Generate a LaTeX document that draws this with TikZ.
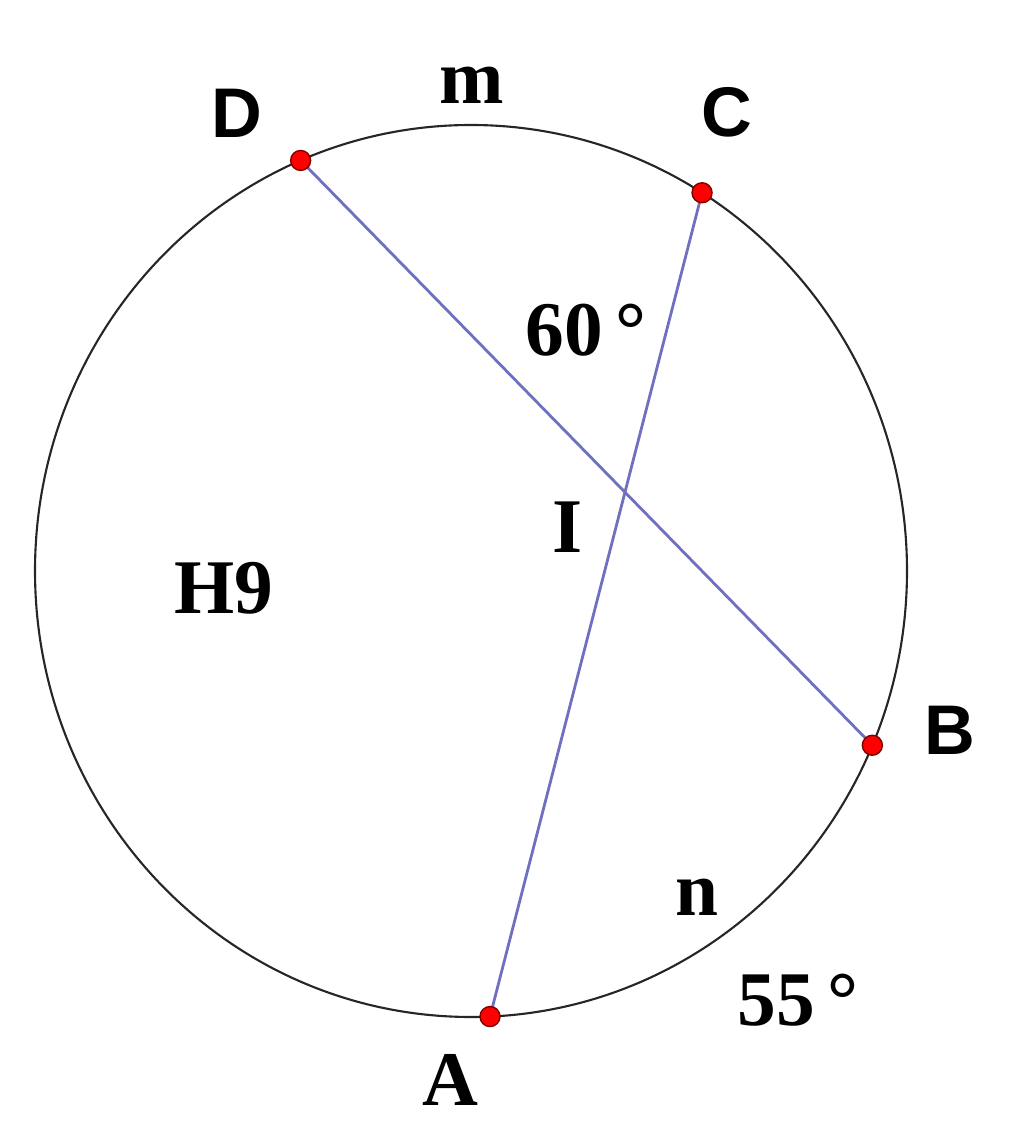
\documentclass[tikz,border=0pt]{standalone}
\usepackage{fontspec}
\setmainfont{Liberation Serif}
\setsansfont{Liberation Sans}
\usetikzlibrary{calc}
\definecolor{chordblue}{RGB}{112,112,192}

\begin{document}
\begin{tikzpicture}[dot/.style={circle,fill=red,draw=red!50!black,inner sep=0pt,minimum size=2mm},
  chord/.style={line width=0.8pt,chordblue},
  seriflbl/.style={font=\fontsize{22}{26}\selectfont\bfseries},
  sanslbl/.style={font=\sffamily\fontsize{20}{24}\selectfont\bfseries}]
\useasboundingbox (0,0) rectangle (10.24,11.43);
% circle
\coordinate (O) at (4.71,5.72);
\draw[black!85,line width=0.6pt] (O) ellipse [x radius=4.36, y radius=4.46];

% points on the circle
\coordinate (D) at ($(O)+(113:4.36 and 4.46)$);
\coordinate (C) at ($(O)+(58:4.36 and 4.46)$);
\coordinate (B) at ($(O)+(-23:4.36 and 4.46)$);
\coordinate (A) at ($(O)+(-87.5:4.36 and 4.46)$);

% chords
\draw[chord] (D)--(B);
\draw[chord] (A)--(C);
\coordinate (I) at (intersection of D--B and A--C);

% points
\foreach \p in {A,B,C,D}{\node[dot] (dot\p) at (\p) {};}

% labels
\node[sanslbl] (lD) at (2.37,10.30) {D};
\node[sanslbl] (lC) at (7.27,10.31) {C};
\node[sanslbl] (lB) at (9.50,4.13) {B};
\node[seriflbl] (lA) at (4.50,0.63) {A};
\node[seriflbl] (lI) at (5.68,6.16) {I};
\node[seriflbl] (lm) at (4.72,10.58) {m};
\node[seriflbl] (ln) at (6.97,2.46) {n};
\node[seriflbl] (lsixty) at (5.86,8.13) {60\,°};
\node[seriflbl] (lfiftyfive) at (7.98,1.43) {55\,°};
\node[seriflbl] (lH) at (2.24,5.55) {H9};
\end{tikzpicture}
\end{document}
